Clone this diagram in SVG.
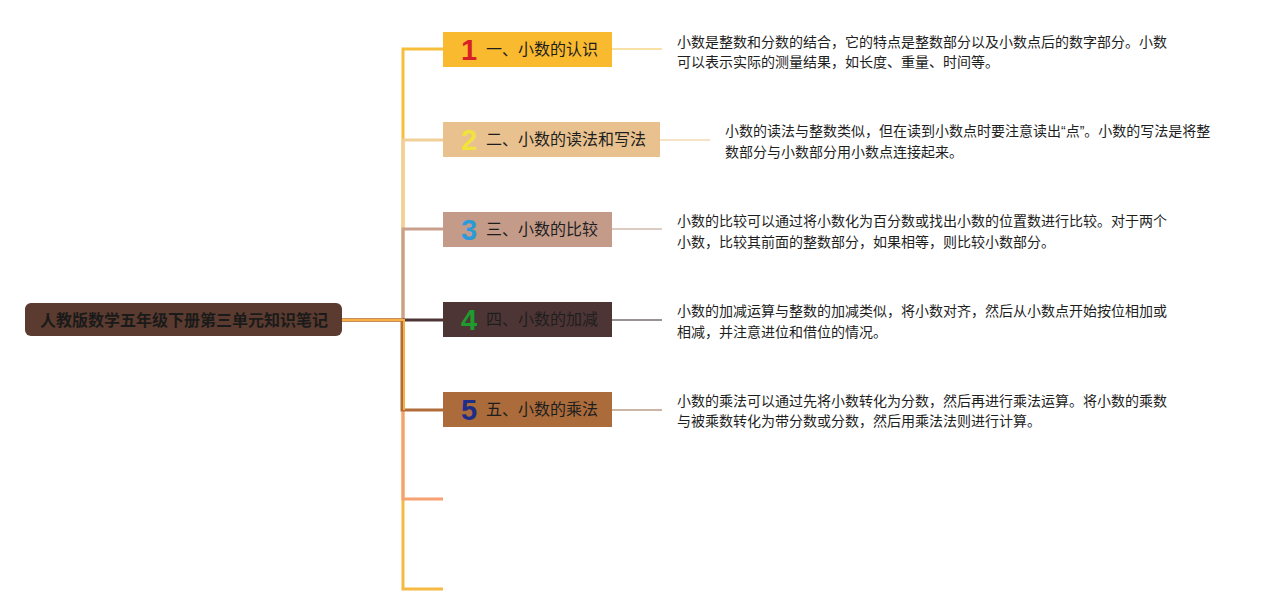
<svg xmlns="http://www.w3.org/2000/svg" width="1285" height="615" viewBox="0 0 1285 615">
<style>
.lbl{font-family:"Noto Sans CJK SC","Liberation Sans",sans-serif;font-size:16px;fill:#1e1e1e}
.num{font-family:"Liberation Sans","DejaVu Sans",sans-serif;font-size:29px;font-weight:bold}
.desc{font-family:"Noto Sans CJK SC","Liberation Sans",sans-serif;font-size:14px;fill:#1e1e1e}
.q{font-family:"Liberation Sans",sans-serif}
.root{font-family:"Noto Sans CJK SC","Liberation Sans",sans-serif;font-size:16px;font-weight:bold;fill:#1a1a1a}
.c{fill:none;stroke-width:3;stroke-linejoin:miter}
.d{fill:none;stroke-width:2}
</style>
<rect width="1285" height="615" fill="#ffffff"/>
<g id="connectors">
<path class="c" stroke="#f6b942" d="M342 320 H403 V589 H443"/>
<path class="c" stroke="#f7a070" d="M342 320 H403 V499 H443"/>
<path class="c" stroke="#f7be3c" d="M342 320 H403 V49 H443"/>
<path class="c" stroke="#f0cf98" d="M342 320 H403 V140 H443"/>
<path class="c" stroke="#c9a08e" d="M342 320 H403 V229 H443"/>
<path class="c" stroke="#4e3535" d="M403 320 H443"/>
<path class="c" stroke="#b06d3a" stroke-width="4" d="M342 320 H402 V410 H443"/>
<path fill="none" stroke="#f8b040" stroke-width="2" d="M342 320 H404 V410"/>
<path class="d" stroke="#f9e0a6" d="M612 49 H662"/>
<path class="d" stroke="#f5e3c8" d="M660 140 H710"/>
<path class="d" stroke="#ddccc4" d="M612 229 H662"/>
<path class="d" stroke="#9a9292" d="M612 320 H662"/>
<path class="d" stroke="#cdb5a6" d="M612 410 H662"/>
</g>
<g id="root">
<rect x="25" y="303" width="317" height="33" rx="6" fill="#5b3b2f"/>
<text class="root" x="184" y="326" text-anchor="middle">人教版数学五年级下册第三单元知识笔记</text>
</g>
<g id="node1">
<rect x="443" y="32" width="169" height="35" fill="#f9ba2f"/>
<text class="num" x="461" y="60" fill="#d91f26">1</text>
<text class="lbl" x="486" y="55">一、小数的认识</text>
</g>
<g id="node2">
<rect x="443" y="122" width="217" height="35" fill="#e8c18f"/>
<text class="num" x="461" y="150" fill="#f2e23c">2</text>
<text class="lbl" x="486" y="145">二、小数的读法和写法</text>
</g>
<g id="node3">
<rect x="443" y="212" width="169" height="35" fill="#c49b89"/>
<text class="num" x="461" y="240" fill="#2a9ad8">3</text>
<text class="lbl" x="486" y="235">三、小数的比较</text>
</g>
<g id="node4">
<rect x="443" y="302" width="169" height="35" fill="#4e3535"/>
<text class="num" x="461" y="330" fill="#1f9c2e">4</text>
<text class="lbl" x="486" y="325">四、小数的加减</text>
</g>
<g id="node5">
<rect x="443" y="392" width="169" height="35" fill="#ab6b3b"/>
<text class="num" x="461" y="420" fill="#1e2d88">5</text>
<text class="lbl" x="486" y="415">五、小数的乘法</text>
</g>
<g id="desc1">
<text class="desc" x="677" y="47">小数是整数和分数的结合，它的特点是整数部分以及小数点后的数字部分。小数</text>
<text class="desc" x="677" y="67">可以表示实际的测量结果，如长度、重量、时间等。</text>
</g>
<g id="desc2">
<text class="desc" x="725" y="136">小数的读法与整数类似，但在读到小数点时要注意读出<tspan class="q">“</tspan>点<tspan class="q">”</tspan>。小数的写法是将整</text>
<text class="desc" x="725" y="157">数部分与小数部分用小数点连接起来。</text>
</g>
<g id="desc3">
<text class="desc" x="677" y="226">小数的比较可以通过将小数化为百分数或找出小数的位置数进行比较。对于两个</text>
<text class="desc" x="677" y="247">小数，比较其前面的整数部分，如果相等，则比较小数部分。</text>
</g>
<g id="desc4">
<text class="desc" x="677" y="316">小数的加减运算与整数的加减类似，将小数对齐，然后从小数点开始按位相加或</text>
<text class="desc" x="677" y="337">相减，并注意进位和借位的情况。</text>
</g>
<g id="desc5">
<text class="desc" x="677" y="406">小数的乘法可以通过先将小数转化为分数，然后再进行乘法运算。将小数的乘数</text>
<text class="desc" x="677" y="426">与被乘数转化为带分数或分数，然后用乘法法则进行计算。</text>
</g>
</svg>
